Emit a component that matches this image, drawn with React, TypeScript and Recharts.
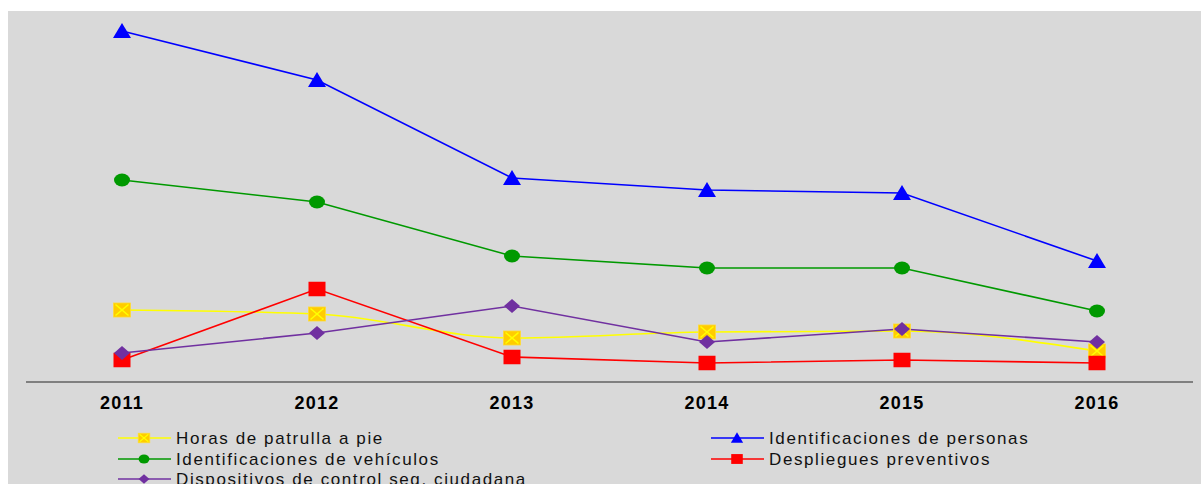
import React from 'react';
import { LineChart, Line, XAxis, YAxis } from 'recharts';

const YEARS = ['2011', '2012', '2013', '2014', '2015', '2016'];
const HORAS = [720, 680, 440, 500, 510, 310];
const PERSONAS = [3510, 3020, 2040, 1920, 1890, 1210];
const VEHICULOS = [2020, 1800, 1260, 1140, 1140, 710];
const DESPLIEGUES = [220, 930, 250, 190, 220, 190];
const DISPOSITIVOS = [290, 490, 760, 400, 530, 400];

const SERIES_NAMES = {
  horas: 'Horas de patrulla a pie',
  personas: 'Identificaciones de personas',
  vehiculos: 'Identificaciones de vehículos',
  despliegues: 'Despliegues preventivos',
  dispositivos: 'Dispositivos de control seg. ciudadana',
};

const data = YEARS.map((y, i) => ({
  year: y,
  horas: HORAS[i],
  personas: PERSONAS[i],
  vehiculos: VEHICULOS[i],
  despliegues: DESPLIEGUES[i],
  dispositivos: DISPOSITIVOS[i],
}));

type Kind = 'xsquare' | 'triangle' | 'circle' | 'square' | 'diamond';

const STYLE: Record<string, { color: string; kind: Kind; curve: 'linear' | 'monotone' }> = {
  horas: { color: '#ffff00', kind: 'xsquare', curve: 'monotone' },
  personas: { color: '#0000ff', kind: 'triangle', curve: 'linear' },
  vehiculos: { color: '#009900', kind: 'circle', curve: 'linear' },
  despliegues: { color: '#ff0000', kind: 'square', curve: 'linear' },
  dispositivos: { color: '#7030a0', kind: 'diamond', curve: 'linear' },
};

function Marker({ kind, cx, cy, color, s = 1 }: { kind: Kind; cx: number; cy: number; color: string; s?: number }) {
  if (cx == null || cy == null) return <g />;
  if (kind === 'xsquare') {
    const w = 17 * s, h = 14 * s;
    return (
      <g>
        <rect x={cx - w / 2} y={cy - h / 2} width={w} height={h} fill="#ffcc00" stroke="#ffdd33" strokeWidth={0.8} />
        <line x1={cx - w / 2 + 2 * s} y1={cy - h / 2 + 1.5 * s} x2={cx + w / 2 - 2 * s} y2={cy + h / 2 - 1.5 * s} stroke="#ffff00" strokeWidth={1.6 * s} />
        <line x1={cx - w / 2 + 2 * s} y1={cy + h / 2 - 1.5 * s} x2={cx + w / 2 - 2 * s} y2={cy - h / 2 + 1.5 * s} stroke="#ffff00" strokeWidth={1.6 * s} />
      </g>
    );
  }
  if (kind === 'triangle') {
    const w = 18 * s, h = 14 * s;
    return <polygon points={`${cx},${cy - h / 2 - 1} ${cx + w / 2},${cy + h / 2} ${cx - w / 2},${cy + h / 2}`} fill={color} />;
  }
  if (kind === 'circle') {
    return <ellipse cx={cx} cy={cy} rx={8 * s} ry={6.5 * s} fill={color} />;
  }
  if (kind === 'square') {
    const w = 17 * s, h = 14.5 * s;
    return <rect x={cx - w / 2} y={cy - h / 2} width={w} height={h} fill={color} />;
  }
  const w = 16 * s, h = 14 * s;
  return <polygon points={`${cx},${cy - h / 2} ${cx + w / 2},${cy} ${cx},${cy + h / 2} ${cx - w / 2},${cy}`} fill={color} />;
}

const makeDot = (key: string) => (props: any) => {
  const st = STYLE[key];
  return (
    <g key={`${key}-${props.index}`}>
      <Marker kind={st.kind} cx={props.cx} cy={props.cy} color={st.color} />
    </g>
  );
};

const LEGEND_LEFT = ['horas', 'vehiculos', 'dispositivos'];
const LEGEND_RIGHT = ['personas', 'despliegues'];

const FONT = '"Liberation Sans", Arial, sans-serif';

function LegendItem({ k }: { k: string }) {
  const st = STYLE[k];
  return (
    <div style={{ display: 'flex', alignItems: 'flex-start', height: 20.5 }}>
      <svg width={58} height={20} style={{ display: 'block' }}>
        <line x1={0} y1={9} x2={53} y2={9} stroke={st.color} strokeWidth={1.5} />
        <Marker kind={st.kind} cx={26} cy={9} color={st.color} s={0.68} />
      </svg>
      <span style={{ fontFamily: FONT, fontSize: 17, lineHeight: '20px', letterSpacing: 1.6, color: '#111', whiteSpace: 'nowrap' }}>
        {(SERIES_NAMES as any)[k]}
      </span>
    </div>
  );
}

const TickLabel = (props: any) => {
  const { x, y, payload } = props;
  return (
    <text x={x} y={y} dy="0.71em" textAnchor="middle" fontFamily={FONT} fontWeight="bold" fontSize={18} letterSpacing={1.3} fill="#000">
      {payload.value}
    </text>
  );
};

export default function App() {
  const order = ['horas', 'personas', 'vehiculos', 'despliegues', 'dispositivos'];
  return (
    <div style={{ position: 'fixed', left: 8, top: 11, width: 1193, height: 473, background: '#d9d9d9', overflow: 'hidden' }}>
      <LineChart width={1193} height={473} data={data} margin={{ top: 1, right: 8, left: 18, bottom: 0 }}>
        <XAxis
          dataKey="year"
          height={102}
          padding={{ left: 96, right: 96 }}
          axisLine={{ stroke: '#808080', strokeWidth: 2 }}
          tickLine={false}
          tickSize={0}
          tickMargin={14}
          tick={<TickLabel />}
          interval={0}
        />
        <YAxis hide domain={[0, 3700]} />
        {order.map((k) => (
          <Line
            key={k}
            dataKey={k}
            name={(SERIES_NAMES as any)[k]}
            type={STYLE[k].curve}
            stroke={STYLE[k].color}
            strokeWidth={1.6}
            dot={makeDot(k)}
            activeDot={false}
            isAnimationActive={false}
          />
        ))}
      </LineChart>
      <div style={{ position: 'absolute', left: 110, top: 418 }}>
        {LEGEND_LEFT.map((k) => <LegendItem key={k} k={k} />)}
      </div>
      <div style={{ position: 'absolute', left: 703, top: 418 }}>
        {LEGEND_RIGHT.map((k) => <LegendItem key={k} k={k} />)}
      </div>
    </div>
  );
}
